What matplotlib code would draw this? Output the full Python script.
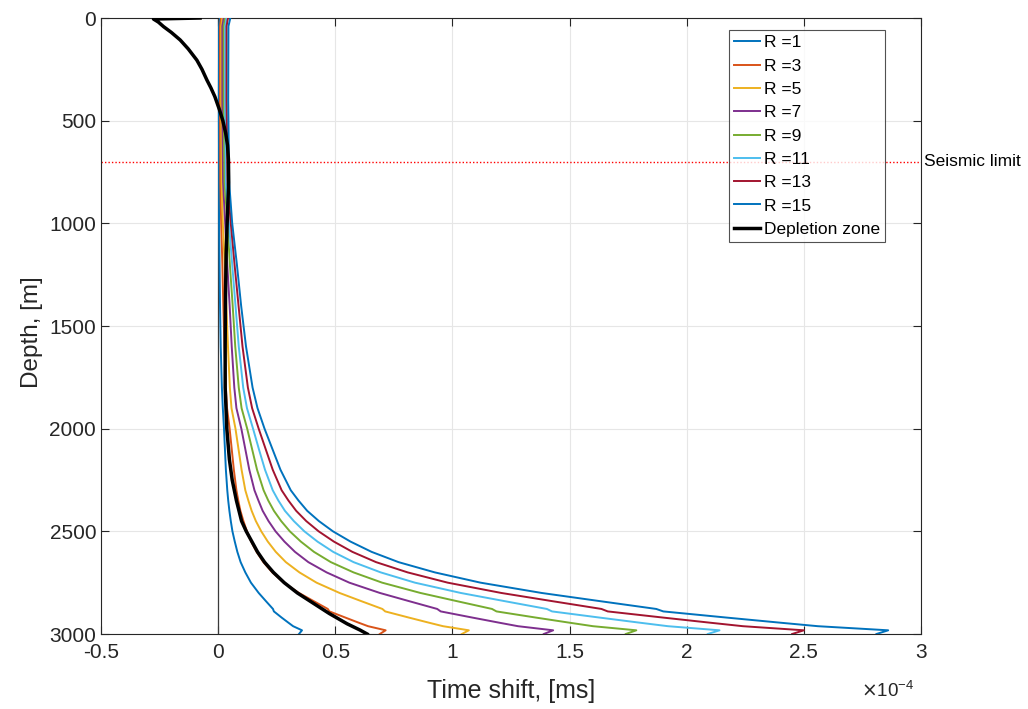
import matplotlib
matplotlib.use("Agg")
import matplotlib.pyplot as plt

plt.rcParams['font.family'] = ['Liberation Sans', 'DejaVu Sans']

# Depth samples shared by the R curves [m]
depth = [0, 40, 400, 800, 1000, 1200, 1400, 1600, 1800, 1900, 2000, 2100, 2200,
         2300, 2350, 2400, 2450, 2500, 2550, 2600, 2650, 2700, 2750, 2800, 2840,
         2878, 2890, 2920, 2945, 2962, 2982, 3000]

# Time shift for each radius [x1e-4 ms]
shift_r1 = [0.008, 0.004, 0.003, 0.004, 0.004, 0.006, 0.008, 0.011, 0.016, 0.020,
            0.025, 0.029, 0.033, 0.039, 0.043, 0.048, 0.054, 0.061, 0.071, 0.082,
            0.096, 0.116, 0.140, 0.173, 0.204, 0.234, 0.238, 0.271, 0.300, 0.320,
            0.358, 0.345]
shift_r3 = [0.012, 0.008, 0.008, 0.009, 0.013, 0.018, 0.022, 0.027, 0.033, 0.038,
            0.049, 0.058, 0.067, 0.078, 0.086, 0.095, 0.108, 0.123, 0.141, 0.164,
            0.193, 0.231, 0.280, 0.345, 0.408, 0.468, 0.475, 0.543, 0.600, 0.640,
            0.715, 0.690]
shift_r5 = [0.018, 0.013, 0.013, 0.015, 0.020, 0.028, 0.035, 0.042, 0.050, 0.057,
            0.074, 0.087, 0.100, 0.116, 0.129, 0.143, 0.161, 0.184, 0.212, 0.246,
            0.289, 0.347, 0.420, 0.518, 0.611, 0.701, 0.713, 0.814, 0.900, 0.960,
            1.070, 1.040]
shift_r7 = [0.024, 0.018, 0.018, 0.021, 0.030, 0.039, 0.049, 0.058, 0.069, 0.078,
            0.099, 0.116, 0.133, 0.155, 0.172, 0.190, 0.215, 0.245, 0.283, 0.328,
            0.385, 0.463, 0.560, 0.690, 0.815, 0.935, 0.950, 1.085, 1.200, 1.280,
            1.430, 1.390]
shift_r9 = [0.030, 0.024, 0.024, 0.027, 0.040, 0.050, 0.062, 0.073, 0.088, 0.100,
            0.124, 0.145, 0.166, 0.194, 0.214, 0.238, 0.269, 0.306, 0.353, 0.409,
            0.481, 0.578, 0.700, 0.863, 1.019, 1.169, 1.188, 1.356, 1.500, 1.600,
            1.785, 1.740]
shift_r11 = [0.036, 0.030, 0.030, 0.033, 0.046, 0.060, 0.074, 0.088, 0.107, 0.123,
             0.149, 0.174, 0.200, 0.233, 0.257, 0.285, 0.323, 0.368, 0.424, 0.491,
             0.578, 0.694, 0.840, 1.035, 1.223, 1.403, 1.425, 1.628, 1.800, 1.920,
             2.140, 2.090]
shift_r13 = [0.042, 0.036, 0.036, 0.040, 0.054, 0.070, 0.087, 0.104, 0.127, 0.145,
             0.173, 0.203, 0.233, 0.271, 0.300, 0.333, 0.376, 0.429, 0.494, 0.573,
             0.674, 0.809, 0.980, 1.208, 1.426, 1.636, 1.663, 1.899, 2.100, 2.240,
             2.500, 2.450]
shift_r15 = [0.052, 0.044, 0.043, 0.047, 0.060, 0.080, 0.098, 0.119, 0.147, 0.168,
             0.198, 0.232, 0.266, 0.310, 0.343, 0.380, 0.430, 0.490, 0.565, 0.655,
             0.770, 0.925, 1.120, 1.380, 1.630, 1.870, 1.900, 2.170, 2.400, 2.560,
             2.860, 2.810]

radius_labels = ['R =1', 'R =3', 'R =5', 'R =7', 'R =9', 'R =11', 'R =13', 'R =15']
radius_shifts = [shift_r1, shift_r3, shift_r5, shift_r7, shift_r9, shift_r11,
                 shift_r13, shift_r15]

# Depletion zone response
depth_dz = [0, 5, 20, 42, 70, 107, 150, 205, 250, 302, 340, 383, 448, 500, 560,
            620, 690, 800, 950, 1150, 1400, 1600, 1800, 2000, 2150, 2250, 2350,
            2450, 2500, 2600, 2650, 2700, 2750, 2800, 2850, 2900, 2950, 2981, 3000]
shift_dz = [-0.077, -0.276, -0.255, -0.233, -0.200, -0.162, -0.128, -0.091, -0.069,
            -0.048, -0.031, -0.014, 0.006, 0.020, 0.032, 0.040, 0.044, 0.045, 0.040,
            0.034, 0.031, 0.030, 0.030, 0.037, 0.048, 0.060, 0.078, 0.100, 0.120,
            0.168, 0.198, 0.236, 0.282, 0.338, 0.406, 0.474, 0.550, 0.606, 0.636]

seismic_limit = 700
x_ticks = [-0.5, 0, 0.5, 1, 1.5, 2, 2.5, 3]
x_tick_labels = ['-0.5', '0', '0.5', '1', '1.5', '2', '2.5', '3']
y_ticks = [0, 500, 1000, 1500, 2000, 2500, 3000]

colors = ['#0072BD', '#D95319', '#EDB120', '#7E2F8E', '#77AC30', '#4DBEEE',
          '#A2142F', '#0072BD']
ink = '#262626'

W, H = 1028, 709
fig = plt.figure(figsize=(W / 100, H / 100), dpi=100)
ax = fig.add_axes([101 / W, 1 - 634 / H, 820 / W, 616 / H])

ax.axvline(0, color='#3a3a3a', lw=0.9, zorder=1)

for shift, lab, col in zip(radius_shifts, radius_labels, colors):
    ax.plot(shift, depth, color=col, lw=1.4, label=lab, zorder=3)
ax.plot(shift_dz, depth_dz, color='black', lw=2.5, label='Depletion zone', zorder=4)

ax.axhline(seismic_limit, color='red', lw=1.0, ls=(0, (1, 1.5)), zorder=2)
ax.text(3.0 + 0.012, seismic_limit, 'Seismic limit', fontsize=12.5, va='center',
        ha='left', clip_on=False)

ax.set_xlim(-0.5, 3)
ax.set_ylim(3000, 0)
ax.set_xticks(x_ticks)
ax.set_xticklabels(x_tick_labels)
ax.set_yticks(y_ticks)
ax.grid(True, color='#e6e6e6', lw=0.8, zorder=0)
ax.set_axisbelow(True)

for s in ax.spines.values():
    s.set_color(ink)
    s.set_linewidth(0.8)
ax.tick_params(direction='in', length=6, width=0.8, colors=ink,
               labelsize=15, top=True, right=True, pad=3.5)
ax.tick_params(axis='x', pad=6.5)

ax.set_xlabel('Time shift, [ms]', fontsize=18, color=ink)
ax.set_ylabel('Depth, [m]', fontsize=17.5, color=ink)
ax.xaxis.set_label_coords(0.5, (634 - 679) / 616)
ax.yaxis.set_label_coords((43 - 101) / 820, 0.49)
fig.text(861 / W, 1 - 691 / H, r'$\times\mathregular{10^{-4}}$', fontsize=13.5,
         color=ink, va='center', ha='left')

leg = ax.legend(loc='upper right', bbox_to_anchor=((885 - 101) / 820, 1 - 12 / 616),
                fontsize=12.5, frameon=True, fancybox=False, borderpad=0.3,
                labelspacing=0.47, handlelength=1.5, handletextpad=0.2,
                borderaxespad=0)
leg.get_frame().set_edgecolor(ink)
leg.get_frame().set_linewidth(0.8)

fig.savefig('out.png', dpi=100)
